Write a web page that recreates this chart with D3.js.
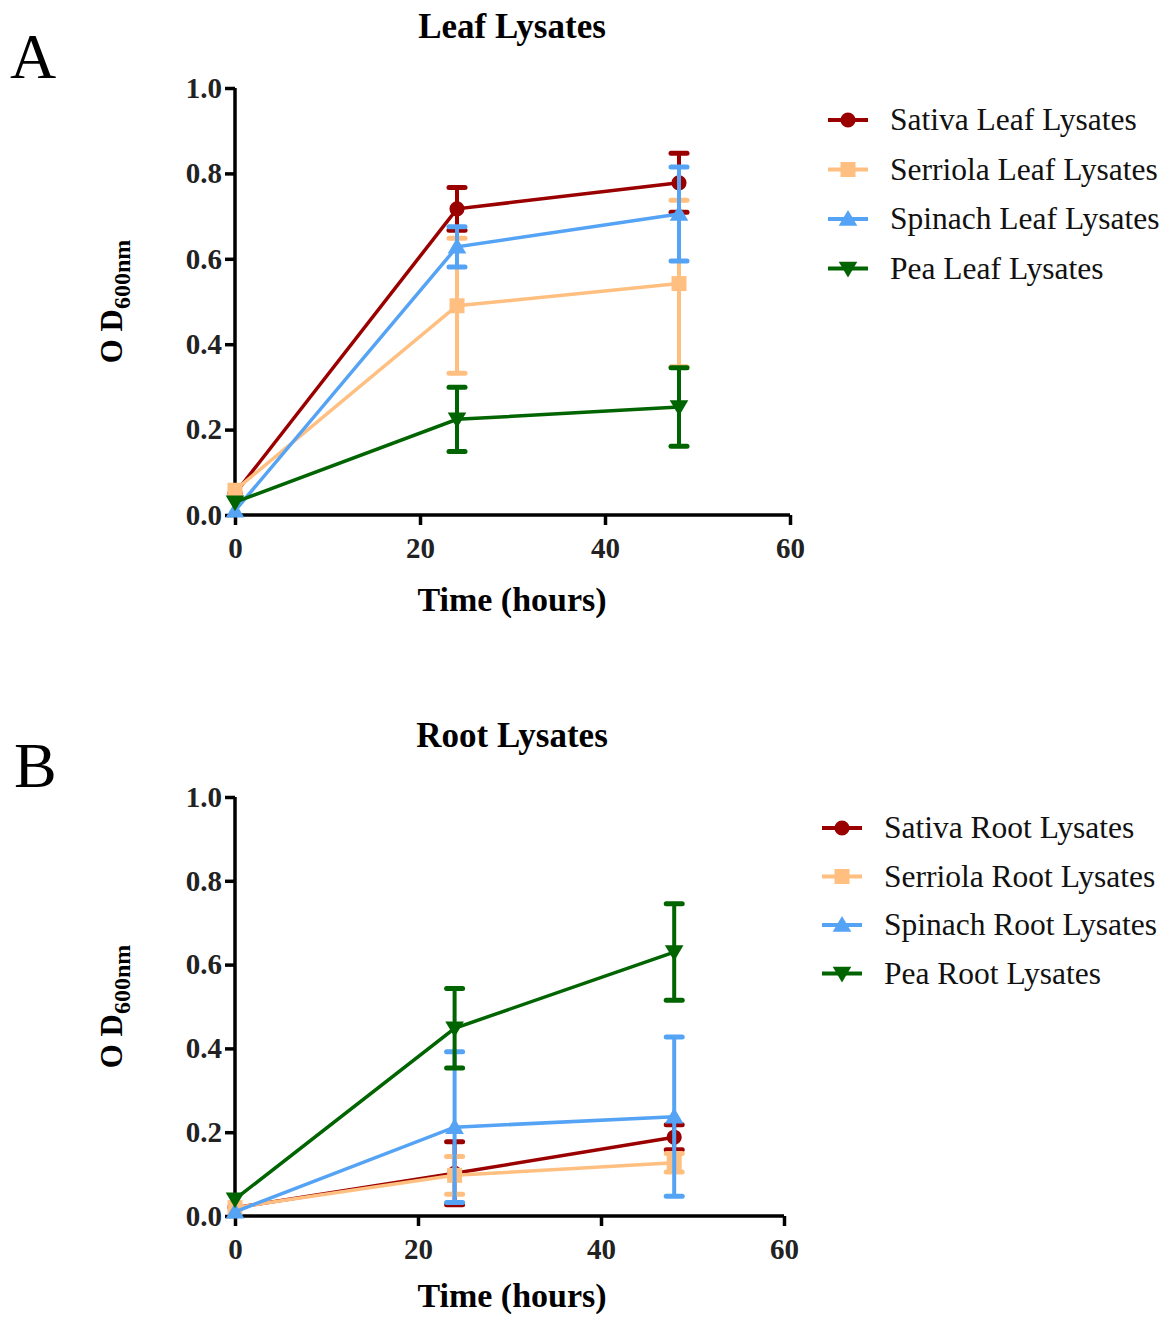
<!DOCTYPE html>
<html>
<head>
<meta charset="utf-8">
<script src="https://cdn.jsdelivr.net/npm/d3@7"></script>
<style>
  body { margin: 0; background: #fff; }
  svg { font-family: "Liberation Serif", "DejaVu Serif", serif; }
</style>
</head>
<body>
<div id="chart"></div>
<script>
// data
const hours = [0, 24, 48];
const seriesNames = ["Sativa", "Serriola", "Spinach", "Pea"];
const seriesColors = ["#9b0000", "#ffbf80", "#55a3f5", "#006400"];
const seriesSymbols = ["circle", "square", "triangle", "triangleDown"];

// leaf lysates: mean and error (sd)
const leafSativa = [0.05, 0.717, 0.778];
const leafSativaErr = [0, 0.05, 0.069];
const leafSerriola = [0.058, 0.49, 0.542];
const leafSerriolaErr = [0, 0.158, 0.195];
const leafSpinach = [0.01, 0.628, 0.705];
const leafSpinachErr = [0, 0.047, 0.11];
const leafPea = [0.03, 0.224, 0.253];
const leafPeaErr = [0, 0.075, 0.092];

// root lysates
const rootSativa = [0.02, 0.102, 0.188];
const rootSativaErr = [0, 0.075, 0.03];
const rootSerriola = [0.02, 0.097, 0.127];
const rootSerriolaErr = [0, 0.045, 0.022];
const rootSpinach = [0.01, 0.212, 0.237];
const rootSpinachErr = [0, 0.18, 0.19];
const rootPea = [0.04, 0.448, 0.63];
const rootPeaErr = [0, 0.095, 0.115];

const xTicks = [0, 20, 40, 60];
const yTicks = [0.0, 0.2, 0.4, 0.6, 0.8, 1.0];

const width = 1169;
const height = 1317;

const svg = d3.create("svg")
    .attr("width", width)
    .attr("height", height);

const panels = [
  {
    letter: "A", title: "Leaf Lysates", kind: "Leaf",
    means: [leafSativa, leafSerriola, leafSpinach, leafPea],
    errs: [leafSativaErr, leafSerriolaErr, leafSpinachErr, leafPeaErr],
    left: 235, right: 790, top: 88, bottom: 515, xTitleY: 611,
    legendX: 848, legendY: 120, legendStep: 49.5
  },
  {
    letter: "B", title: "Root Lysates", kind: "Root",
    means: [rootSativa, rootSerriola, rootSpinach, rootPea],
    errs: [rootSativaErr, rootSerriolaErr, rootSpinachErr, rootPeaErr],
    left: 235, right: 784, top: 797, bottom: 1216, xTitleY: 1307,
    legendX: 842, legendY: 828, legendStep: 48.5
  }
];

function symbolPath(type, size) {
  const s = size;
  if (type === "circle") return d3.symbol(d3.symbolCircle, s * s * 0.8)();
  if (type === "square") return d3.symbol(d3.symbolSquare, s * s)();
  if (type === "triangle") return `M0,${-s * 0.6}L${s * 0.62},${s * 0.45}L${-s * 0.62},${s * 0.45}Z`;
  return `M0,${s * 0.6}L${s * 0.62},${-s * 0.45}L${-s * 0.62},${-s * 0.45}Z`;
}

panels.forEach(p => {
  const x = d3.scaleLinear([0, 60], [p.left, p.right]);
  const y = d3.scaleLinear([0, 1], [p.bottom, p.top]);
  const g = svg.append("g");

  // panel letter
  g.append("text")
    .text(p.letter)
    .attr("x", p.letter === "A" ? 10 : 14)
    .attr("y", p.top - 10)
    .attr("font-size", 64);

  // title
  g.append("text")
    .text(p.title)
    .attr("x", 512)
    .attr("y", p.top - 50)
    .attr("text-anchor", "middle")
    .attr("font-weight", "bold")
    .attr("font-size", 35);

  // axes
  const xAxis = g.append("g")
    .attr("transform", `translate(0,${p.bottom})`)
    .call(d3.axisBottom(x).tickValues(xTicks).tickSize(10).tickPadding(12).tickFormat(d3.format("d")));
  const yAxis = g.append("g")
    .attr("transform", `translate(${p.left},0)`)
    .call(d3.axisLeft(y).tickValues(yTicks).tickSize(10).tickPadding(3).tickFormat(d3.format(".1f")));

  [xAxis, yAxis].forEach(a => {
    a.select(".domain").attr("stroke", "#000").attr("stroke-width", 3.5);
    a.selectAll(".tick line").attr("stroke", "#000").attr("stroke-width", 3.5);
    a.selectAll(".tick text")
      .attr("font-family", "Liberation Serif, DejaVu Serif, serif")
      .attr("font-weight", "bold")
      .attr("font-size", 29)
      .attr("fill", "#222");
  });
  xAxis.select(".domain").attr("d", `M${p.left},0H${p.right}`);
  yAxis.select(".domain").attr("d", `M0,${p.bottom}V${p.top}`);

  // axis titles
  g.append("text")
    .text("Time (hours)")
    .attr("x", 512)
    .attr("y", p.xTitleY)
    .attr("text-anchor", "middle")
    .attr("font-weight", "bold")
    .attr("font-size", 34);

  const yl = g.append("text")
    .attr("transform", `translate(122,${(p.top + p.bottom) / 2}) rotate(-90)`)
    .attr("text-anchor", "middle")
    .attr("font-weight", "bold")
    .attr("font-size", 31);
  yl.append("tspan").text("O D");
  yl.append("tspan").text("600nm").attr("font-size", 24).attr("dy", 8);

  const line = d3.line()
    .x((d, i) => x(hours[i]))
    .y(d => y(d));

  // series: error bars, line, markers
  p.means.forEach((m, k) => {
    const col = seriesColors[k];
    const sg = g.append("g");
    hours.forEach((h, i) => {
      const e = p.errs[k][i];
      if (e <= 0) return;
      const cx = x(h);
      sg.append("line")
        .attr("x1", cx).attr("x2", cx)
        .attr("y1", y(m[i] + e)).attr("y2", y(m[i] - e))
        .attr("stroke", col).attr("stroke-width", 4);
      [m[i] + e, m[i] - e].forEach(v => {
        sg.append("line")
          .attr("x1", cx - 8).attr("x2", cx + 8)
          .attr("y1", y(v)).attr("y2", y(v))
          .attr("stroke", col).attr("stroke-width", 5)
          .attr("stroke-linecap", "round");
      });
    });
    sg.append("path")
      .attr("d", line(m))
      .attr("fill", "none")
      .attr("stroke", col)
      .attr("stroke-width", 3.5);
    sg.selectAll("path.pt")
      .data(m)
      .join("path")
      .attr("class", "pt")
      .attr("transform", (d, i) => `translate(${x(hours[i])},${y(d)})`)
      .attr("d", symbolPath(seriesSymbols[k], 15))
      .attr("fill", col);
  });

  // legend
  seriesNames.forEach((name, k) => {
    const ly = p.legendY + k * p.legendStep;
    const col = seriesColors[k];
    g.append("line")
      .attr("x1", p.legendX - 20).attr("x2", p.legendX + 20)
      .attr("y1", ly).attr("y2", ly)
      .attr("stroke", col).attr("stroke-width", 4);
    g.append("path")
      .attr("transform", `translate(${p.legendX},${ly})`)
      .attr("d", symbolPath(seriesSymbols[k], 15))
      .attr("fill", col);
    g.append("text")
      .text(`${name} ${p.kind} Lysates`)
      .attr("x", p.legendX + 42)
      .attr("y", ly + 10)
      .attr("font-size", 31.5)
      .attr("fill", "#111");
  });
});

d3.select("#chart").append(() => svg.node());
</script>
</body>
</html>
